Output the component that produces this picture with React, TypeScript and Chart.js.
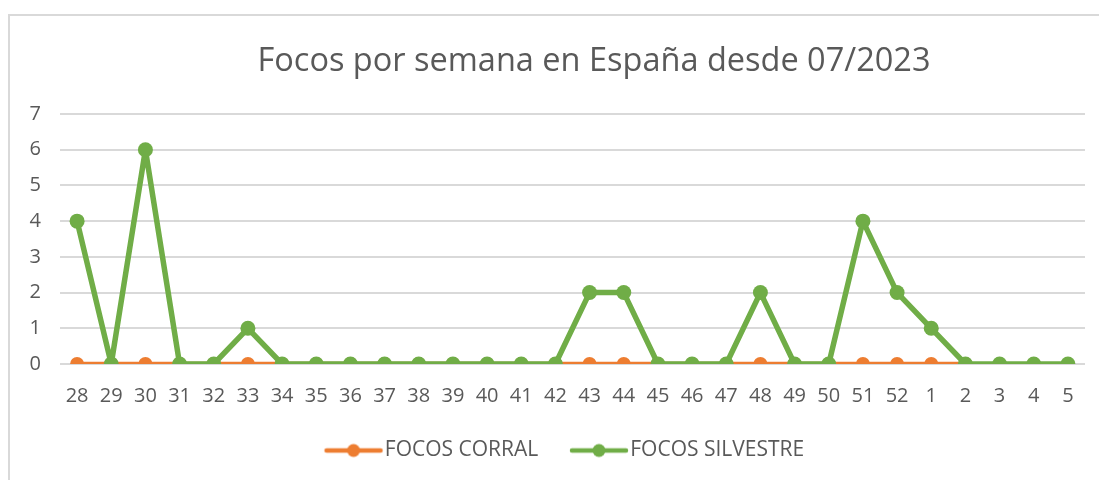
import React, { useEffect, useRef } from "react";
import { Chart, registerables } from "chart.js";

Chart.register(...registerables);

const weeks: string[] = ["28","29","30","31","32","33","34","35","36","37","38","39","40","41","42","43","44","45","46","47","48","49","50","51","52","1","2","3","4","5"];
const focosCorral: (number | null)[] = [0,0,0,0,0,0,0,0,0,0,0,0,0,0,0,0,0,0,0,0,0,0,0,0,0,0,0,null,null,null];
const focosSilvestre: number[] = [4,0,6,0,0,1,0,0,0,0,0,0,0,0,0,2,2,0,0,0,2,0,0,4,2,1,0,0,0,0];
const seriesNames: string[] = ["FOCOS CORRAL", "FOCOS SILVESTRE"];
const titleText = "Focos por semana en España desde 07/2023";

const ORANGE = "#ed7d31";
const GREEN = "#70ad47";
const TEXT = "#595959";
const FONT = "'Open Sans', sans-serif";

function legendMarker(color: string): HTMLCanvasElement {
  const c = document.createElement("canvas");
  c.width = 116;
  c.height = 16;
  const ctx = c.getContext("2d")!;
  ctx.strokeStyle = color;
  ctx.lineWidth = 4.5;
  ctx.lineCap = "round";
  ctx.beginPath();
  ctx.moveTo(46, 8);
  ctx.lineTo(100, 8);
  ctx.stroke();
  ctx.fillStyle = color;
  ctx.beginPath();
  ctx.arc(73, 8, 6.5, 0, Math.PI * 2);
  ctx.fill();
  return c;
}

const titlePlugin = {
  id: "customTitle",
  afterDraw(chart: any) {
    const ctx = chart.ctx;
    ctx.save();
    ctx.fillStyle = TEXT;
    ctx.font = `32.5px ${FONT}`;
    ctx.textAlign = "center";
    ctx.textBaseline = "middle";
    ctx.fillText(titleText, 594, 62);
    ctx.restore();
  },
};

export default function App() {
  const ref = useRef<HTMLCanvasElement>(null);
  useEffect(() => {
    if (!ref.current) return;
    const markers = [legendMarker(ORANGE), legendMarker(GREEN)];
    const common = {
      pointRadius: 7.5,
      pointHoverRadius: 7.5,
      pointBorderWidth: 0,
      tension: 0,
      borderJoinStyle: "round" as const,
      borderCapStyle: "round" as const,
    };
    const chart = new Chart(ref.current, {
      type: "line",
      plugins: [titlePlugin],
      data: {
        labels: weeks,
        datasets: [
          {
            label: seriesNames[1],
            data: focosSilvestre,
            borderColor: GREEN,
            backgroundColor: GREEN,
            borderWidth: 5.5,
            ...common,
          },
          {
            label: seriesNames[0],
            data: focosCorral,
            borderColor: ORANGE,
            backgroundColor: ORANGE,
            borderWidth: 4.5,
            ...common,
            pointRadius: 7,
            pointHoverRadius: 7,
          },
        ],
      },
      options: {
        animation: false,
        responsive: false,
        layout: { padding: { left: 22, right: 14, top: 114, bottom: 9 } },
        plugins: {
          tooltip: { enabled: false },
          title: { display: false },
          legend: {
            position: "bottom",
            labels: {
              color: TEXT,
              font: { family: FONT, size: 21 },
              usePointStyle: true,
              pointStyleWidth: 71.5,
              padding: 10,
              generateLabels: (chart: any) =>
                [1, 0].map((i, k) => ({
                  text: chart.data.datasets[i].label,
                  fillStyle: k === 0 ? ORANGE : GREEN,
                  strokeStyle: k === 0 ? ORANGE : GREEN,
                  lineWidth: 0,
                  pointStyle: markers[k],
                  hidden: false,
                  datasetIndex: i,
                  fontColor: TEXT,
                })),
            },
          },
        },
        scales: {
          x: {
            offset: true,
            grid: { display: false, drawTicks: false },
            border: { display: false },
            ticks: { color: TEXT, font: { family: FONT, size: 20 }, padding: 20, maxRotation: 0, autoSkip: false },
            afterFit: (scale: any) => {
              scale.height = 66;
            },
          },
          y: {
            min: 0,
            max: 7,
            grid: { color: "#d9d9d9", lineWidth: 2, drawTicks: false },
            border: { display: false },
            ticks: { stepSize: 1, color: TEXT, font: { family: FONT, size: 20 }, padding: 19 },
            afterFit: (scale: any) => {
              scale.width = 38;
            },
          },
        },
      },
    });
    return () => chart.destroy();
  }, []);

  return (
    <div style={{ position: "fixed", left: 0, top: 0, width: 1099, height: 480, background: "#fff" }}>
      <div
        style={{
          position: "absolute",
          left: 8,
          top: 14,
          width: 1200,
          height: 600,
          borderLeft: "2px solid #d9d9d9",
          borderTop: "2px solid #d9d9d9",
        }}
      />
      <canvas ref={ref} width={1099} height={480} style={{ position: "absolute", left: 0, top: 0 }} />
    </div>
  );
}
